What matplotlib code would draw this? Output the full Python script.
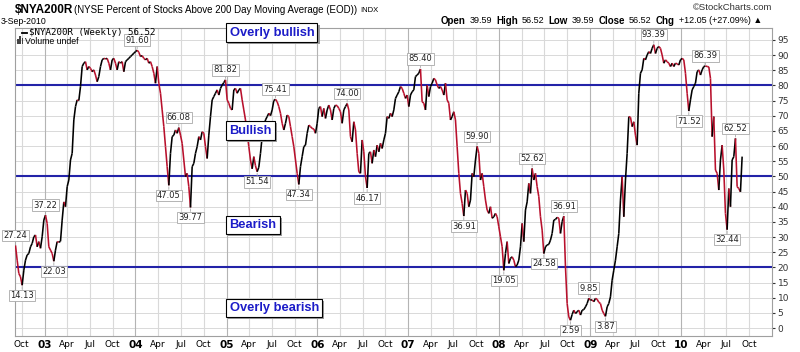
import numpy as np
import pandas as pd
import matplotlib
matplotlib.use("Agg")
import matplotlib.pyplot as plt
import matplotlib.dates as mdates
import matplotlib.patheffects as pe
from matplotlib.collections import LineCollection

# NYSE percent of stocks above 200 day MA, weekly (6-Sep-2002 .. 3-Sep-2010)
nya200r = [
    27.24, 22.4, 18.0, 16.9, 14.13, 19.1, 22.4, 24.1, 24.6, 26.8,
    27.9, 30.1, 30.7, 26.8, 28.5, 26.3, 30.1, 35.6, 37.22, 34.5,
    26.8, 25.7, 24.6, 22.03, 25.7, 28.5, 28.3, 28.6, 35.6, 41.6,
    40.0, 46.6, 48.8, 55.4, 57.6, 68.6, 73.0, 75.2, 75.0, 79.6,
    86.2, 87.3, 87.8, 85.1, 86.2, 85.6, 84.5, 85.1, 83.4, 81.2,
    82.9, 86.2, 88.4, 88.9, 88.7, 88.9, 87.3, 85.1, 88.4, 88.9,
    87.3, 85.1, 87.8, 87.3, 87.8, 84.5, 87.8, 88.4, 88.9, 89.5,
    90.0, 90.6, 91.1, 91.60, 90.9, 89.5, 89.8, 88.9, 88.4, 88.9,
    87.3, 87.8, 86.2, 84.0, 80.7, 86.2, 80.7, 77.4, 71.9, 66.4,
    59.8, 53.2, 47.05, 57.6, 63.1, 63.6, 65.3, 64.2, 66.08, 63.6,
    60.9, 55.4, 49.9, 51.0, 46.6, 39.77, 53.2, 54.3, 57.6, 59.8,
    63.1, 62.0, 64.7, 64.2, 59.8, 55.9, 63.6, 69.7, 75.2, 76.3,
    77.4, 78.5, 76.8, 79.0, 80.1, 80.9, 81.82, 75.2, 74.1, 72.4,
    71.9, 78.5, 79.0, 77.4, 78.5, 79.0, 75.2, 71.9, 68.6, 64.2,
    59.8, 55.4, 52.5, 56.5, 53.5, 51.54, 53.0, 57.6, 63.1, 66.4,
    68.6, 69.7, 70.8,
    70.0, 71.9, 75.0, 75.41, 74.6, 73.0, 70.8, 67.5, 65.3, 67.5,
    70.2, 69.7, 66.4, 63.1, 59.8, 55.4, 51.0, 47.34, 53.2, 56.5,
    59.8, 60.3, 64.2, 66.9, 66.4, 65.8, 65.6, 64.2, 67.5, 72.4,
    73.0, 69.7, 72.4, 69.1, 71.9, 73.5, 71.9, 68.6, 72.4, 73.5,
    73.3, 72.4, 71.3, 67.5, 71.9, 73.0, 74.00, 71.9, 63.1, 61.4,
    68.0, 65.3, 57.6, 51.5, 51.0, 62.0, 58.1, 49.9, 46.17, 57.6,
    58.1, 54.3, 58.7, 56.5, 60.3, 58.1, 60.9, 59.2, 62.0, 64.2,
    69.7, 69.1, 70.8, 69.7, 71.9, 75.7, 76.8, 77.9, 79.6, 79.0,
    77.4, 75.7, 76.8, 73.0, 76.8, 77.9, 78.5, 82.9, 83.4, 84.0,
    85.40, 74.6, 74.1, 71.9, 80.1, 76.3, 79.6, 80.7, 82.3, 81.8,
    80.1, 79.0, 79.6, 78.5, 76.8, 80.7, 75.2, 74.1, 68.6, 69.7,
    71.3, 68.6, 59.8, 51.0, 44.4, 41.1, 36.91, 45.5, 44.4, 40.0,
    42.2, 51.0, 49.9, 55.4, 59.90, 57.6, 48.8, 51.0, 46.6, 42.2,
    38.9, 37.8, 40.0, 36.2, 36.7, 37.8, 36.7, 33.4, 30.1, 26.8,
    19.05, 24.6, 28.5, 21.3, 23.0, 23.5, 22.4, 20.2, 20.8, 22.4,
    26.8, 34.5, 28.5, 38.9, 41.6, 47.7, 44.4, 52.62, 48.8, 51.0,
    46.6, 43.3, 36.7, 32.3, 24.58, 26.8, 27.4, 27.6, 29.0, 31.2,
    35.6, 35.8, 36.5, 36.2, 31.2, 35.1, 36.91, 20.2, 8.1, 3.7,
    2.59, 4.5, 5.9, 4.8, 5.4, 5.9, 4.3, 5.9, 6.1, 7.0,
    8.1, 9.85, 9.2, 9.3, 8.7, 9.8, 9.5, 8.5, 8.1, 5.9,
    4.8, 3.87, 7.0, 8.1, 10.3, 15.8, 19.1, 22.4, 26.8, 31.2,
    42.2, 49.9, 36.7, 48.8, 57.6, 69.7, 69.5, 66.4, 68.0, 63.6,
    60.3, 77.4, 84.0, 85.1, 88.9, 88.4, 90.0, 91.1, 90.5, 92.2,
    93.39, 90.5, 92.2, 92.8, 92.2, 90.0, 87.3, 88.4, 87.8, 87.3,
    86.2, 87.3, 86.2, 87.3, 87.1, 86.7, 88.4, 88.9, 88.4, 84.0,
    77.4, 71.52, 75.2, 78.5, 79.6, 80.7, 84.5, 85.1, 83.4, 85.1,
    86.2, 86.39, 86.2, 86.1, 82.3, 63.1, 69.7, 52.1, 51.0, 45.5,
    55.4, 60.3, 52.1, 37.8, 32.44, 46.0, 40.0, 55.4, 56.5, 62.52,
    46.6, 46.0, 44.9, 56.52,
]

# peak / trough labels in date order, and whether they sit above the line
label_values = [27.24, 14.13, 37.22, 22.03, 91.60, 47.05, 66.08, 39.77, 81.82, 51.54,
                75.41, 47.34, 74.00, 46.17, 85.40, 36.91, 59.90, 19.05, 52.62, 24.58,
                36.91, 2.59, 9.85, 3.87, 93.39, 71.52, 86.39, 32.44, 62.52]
label_above = [1, 0, 1, 0, 1, 0, 1, 0, 1, 0,
               1, 0, 1, 0, 1, 0, 1, 0, 1, 0,
               1, 0, 1, 0, 1, 0, 1, 0, 1]

levels = [20, 50, 80]
zones = ["Overly bullish", "Bullish", "Bearish", "Overly bearish"]
zone_y = [0.985, 0.667, 0.360, 0.091]   # axes fraction

dates = pd.date_range("2002-09-06", "2010-09-03", periods=len(nya200r))
x = mdates.date2num(dates)
y = np.array(nya200r)

fig = plt.figure(figsize=(8, 3.52), dpi=100)
ax = fig.add_axes([15 / 800, 16 / 352, 757 / 800, 308 / 352])

ax.set_xlim(mdates.date2num(pd.Timestamp("2002-09-04")), mdates.date2num(pd.Timestamp("2011-01-01")))
ax.set_ylim(-2.6, 98.9)

# grid
ax.set_yticks(np.arange(0, 100, 5))
for v in np.arange(0, 100, 5):
    ax.axhline(v, color="#d9d9d9", lw=0.7, zorder=0)
ticks = pd.date_range("2002-10-01", "2010-10-01", freq="QS-JAN")
for t in ticks:
    ax.axvline(mdates.date2num(t), color="#b4b4b4" if t.month == 1 else "#d9d9d9", lw=0.8, zorder=0)

# levels
for lv in levels:
    ax.axhline(lv, color="#2323a8", lw=1.5, zorder=2)

# line: black when rising, red when falling
pts = np.column_stack([x, y])
segs = np.stack([pts[:-1], pts[1:]], axis=1)
cols = ["#000000" if b >= a else "#b8102c" for a, b in zip(y[:-1], y[1:])]
ax.add_collection(LineCollection(segs, colors=cols, linewidths=1.15, zorder=3))

# value labels
start = 0
for val, up in zip(label_values, label_above):
    i = start + int(np.argmin(np.abs(y[start:] - val)))
    start = i + 1
    ax.annotate("%.2f" % val, xy=(x[i], y[i]), xytext=(0, 4 if up else -4), textcoords="offset points",
                ha="center", va="bottom" if up else "top", fontsize=6, family="DejaVu Sans", color="#222222",
                bbox=dict(boxstyle="square,pad=0.15", fc="white", ec="#a8a8a8", lw=0.6),
                arrowprops=dict(arrowstyle="-", color="#a8a8a8", lw=0.6, shrinkA=0, shrinkB=1),
                zorder=4)

# zone boxes
for name, zy in zip(zones, zone_y):
    t = ax.text(0.2835, zy, name, transform=ax.transAxes, ha="left", va="center",
                fontsize=9.3, fontweight="bold", family="Liberation Sans", color="#1c1cc8",
                bbox=dict(boxstyle="square,pad=0.25", fc="white", ec="black", lw=0.8), zorder=6, clip_on=False)
    t.get_bbox_patch().set_path_effects([pe.SimplePatchShadow(offset=(1.5, -1.5), shadow_rgbFace="#9a9a9a", alpha=1), pe.Normal()])

# axes styling
ax.yaxis.tick_right()
ax.tick_params(axis="y", length=2, labelsize=6.5, colors="#333333", pad=2)
ax.set_yticklabels([str(v) for v in range(0, 100, 5)])
ax.set_xticks(mdates.date2num(ticks))
ax.set_xticklabels([("%02d" % (t.year % 100)) if t.month == 1 else t.strftime("%b") for t in ticks])
ax.tick_params(axis="x", length=0, labelsize=6.5, pad=3)
for lab, t in zip(ax.get_xticklabels(), ticks):
    if t.month == 1:
        lab.set_fontweight("bold")
        lab.set_fontsize(7.5)
for s in ax.spines.values():
    s.set_color("#a0a0a0")
    s.set_linewidth(0.8)

# legend inside the panel (drawn over the labels, like the original)
ax.plot([0.009, 0.016], [0.984, 0.984], transform=ax.transAxes, color="black", lw=1.3, zorder=7)
ax.text(0.019, 0.986, "$NYA200R (Weekly) 56.52", transform=ax.transAxes, va="center", ha="left",
        fontsize=6.6, family="DejaVu Sans Mono", zorder=7)
for k, h in enumerate([0.018, 0.028, 0.022]):
    ax.bar(0.004 + k * 0.0028, h, width=0.0018, bottom=0.947, transform=ax.transAxes, color="#444444", zorder=7)
ax.text(0.013, 0.956, "Volume undef", transform=ax.transAxes, va="center", ha="left",
        fontsize=6.3, family="Liberation Sans", zorder=7)

# header
fig.text(15 / 800, 1 - 10 / 352, "$NYA200R", fontsize=8.5, fontweight="bold", family="Liberation Sans", va="center")
fig.text(74 / 800, 1 - 10 / 352, "(NYSE Percent of Stocks Above 200 Day Moving Average (EOD))",
         fontsize=7, family="Liberation Sans", va="center")
fig.text(360 / 800, 1 - 10 / 352, "INDX", fontsize=5.5, family="Liberation Sans", va="center")
fig.text(1 / 800, 1 - 21 / 352, "3-Sep-2010", fontsize=6.3, family="Liberation Sans", va="center")
fig.text(772 / 800, 1 - 8 / 352, "\u00a9StockCharts.com", fontsize=6.8, family="Liberation Sans",
         va="center", ha="right", color="#333333")

pieces = [("Open", "bold", 7), ("39.59", "normal", 6.5), ("High", "bold", 7), ("56.52", "normal", 6.5),
          ("Low", "bold", 7), ("39.59", "normal", 6.5), ("Close", "bold", 7), ("56.52", "normal", 6.5),
          ("Chg", "bold", 7), ("+12.05 (+27.09%) \u25b2", "normal", 6.5)]
r = fig.canvas.get_renderer()
px = 441
for txt, w, sz in pieces:
    t = fig.text(px / 800, 1 - 20.5 / 352, txt, fontsize=sz, fontweight=w, family="Liberation Sans", va="center")
    px += t.get_window_extent(r).width + 4

fig.savefig("out.png", dpi=100)
